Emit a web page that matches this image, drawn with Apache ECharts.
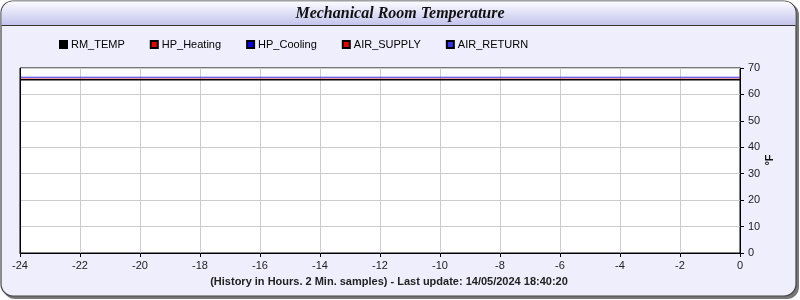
<!DOCTYPE html>
<html><head><meta charset="utf-8">
<script src="https://cdn.jsdelivr.net/npm/echarts@6/dist/echarts.min.js"></script>
<style>html,body{margin:0;padding:0;background:#fff}#c{width:800px;height:300px}</style>
</head><body><div id="c"></div>
<script>
const titleText = 'Mechanical Room Temperature';
const xAxisTitle = '(History in Hours. 2 Min. samples) - Last update: 14/05/2024 18:40:20';
const yAxisTitle = '°F';
const seriesNames = ['RM_TEMP', 'HP_Heating', 'HP_Cooling', 'AIR_SUPPLY', 'AIR_RETURN'];
const seriesColors = ['#000000', '#ee0000', '#0000ee', '#ee0000', '#3333ee'];
const hours = [-24, -22, -20, -18, -16, -14, -12, -10, -8, -6, -4, -2, 0];
const rmTemp = [65.6, 65.6, 65.6, 65.6, 65.6, 65.6, 65.6, 65.6, 65.6, 65.6, 65.6, 65.6, 65.6];
const hpHeating = [];
const hpCooling = [];
const airSupply = [65.8, 65.8, 65.8, 65.8, 65.8, 65.8, 65.8, 65.8, 65.8, 65.8, 65.8, 65.8, 65.8];
const airReturn = [66.5, 66.5, 66.5, 66.5, 66.5, 66.5, 66.5, 66.5, 66.5, 66.5, 66.5, 66.5, 66.5];
const seriesValues = [rmTemp, hpHeating, hpCooling, airSupply, airReturn];

const chart = echarts.init(document.getElementById('c'), null, {renderer: 'canvas'});
const series = seriesNames.map((n, i) => ({
  name: n, type: 'line', showSymbol: false, symbol: 'none',
  data: seriesValues[i].map((v, k) => [hours[k], v]),
  lineStyle: {color: seriesColors[i], width: i === 0 ? 1.5 : 1},
  itemStyle: {color: seriesColors[i], borderColor: '#000', borderWidth: 1},
  z: [5, 3, 3, 4, 6][i],
  animation: false
}));
chart.setOption({
  animation: false,
  backgroundColor: '#ffffff',
  textStyle: {fontFamily: 'Liberation Sans, Arial, sans-serif'},
  graphic: [
    {type: 'rect', z: -10, silent: true, shape: {x: 3, y: 3, width: 796, height: 296, r: 12}, style: {fill: '#777'}},
    {type: 'rect', z: -9, silent: true, shape: {x: 1, y: 1, width: 795, height: 295, r: 12}, style: {fill: '#eeeefc', stroke: '#444', lineWidth: 1.2}},
    {type: 'rect', z: -8, silent: true, shape: {x: 1.6, y: 1.6, width: 793.8, height: 23.4, r: [11, 11, 0, 0]},
      style: {fill: new echarts.graphic.LinearGradient(0, 0, 0, 1, [
        {offset: 0, color: '#fbfbff'}, {offset: 0.45, color: '#e2e2f8'}, {offset: 1, color: '#c4c4ec'}])}},
    {type: 'line', z: -7, silent: true, shape: {x1: 1.6, y1: 25.5, x2: 795.4, y2: 25.5}, style: {stroke: '#333', lineWidth: 1.2}},
    {type: 'text', z: 10, x: 400, y: 14, style: {text: titleText, font: 'italic bold 16px "Liberation Serif", "DejaVu Serif", serif', fill: '#111', align: 'center', verticalAlign: 'middle'}},
    {type: 'text', z: 10, x: 389, y: 282, style: {text: xAxisTitle, font: 'bold 11px "Liberation Sans", Arial, sans-serif', fill: '#222', align: 'center', verticalAlign: 'middle'}},
    {type: 'text', z: 10, x: 770, y: 160, rotation: Math.PI / 2, style: {text: yAxisTitle, font: 'bold 11px "Liberation Sans", Arial, sans-serif', fill: '#111', align: 'center', verticalAlign: 'middle'}},
    {type: 'line', z: 20, silent: true, shape: {x1: 20.5, y1: 68, x2: 20.5, y2: 253}, style: {stroke: '#000', lineWidth: 1}}
  ],
  legend: {
    left: 54, top: 34, itemWidth: 7, itemHeight: 7, itemGap: 25,
    icon: 'rect',
    textStyle: {fontSize: 11, color: '#000', padding: [0, 0, 0, -1]},
    data: seriesNames
  },
  grid: {left: 20, right: 60, top: 68, bottom: 47, show: true, backgroundColor: '#ffffff', borderColor: '#000', borderWidth: 1},
  xAxis: {
    type: 'value', min: -24, max: 0, interval: 2,
    axisLine: {show: true, onZero: false, lineStyle: {color: '#000', width: 1}},
    axisTick: {show: true, length: 4, lineStyle: {color: '#000'}},
    axisLabel: {color: '#222', fontSize: 11, margin: 7},
    splitLine: {show: true, lineStyle: {color: '#cccccc', width: 1}}
  },
  yAxis: {
    type: 'value', position: 'right', min: 0, max: 70, interval: 10,
    axisLine: {show: true, lineStyle: {color: '#000', width: 1}},
    axisTick: {show: true, length: 4, lineStyle: {color: '#000'}},
    axisLabel: {color: '#222', fontSize: 11, margin: 8},
    splitLine: {show: true, lineStyle: {color: '#cccccc', width: 1}}
  },
  series: series
});
</script></body></html>
